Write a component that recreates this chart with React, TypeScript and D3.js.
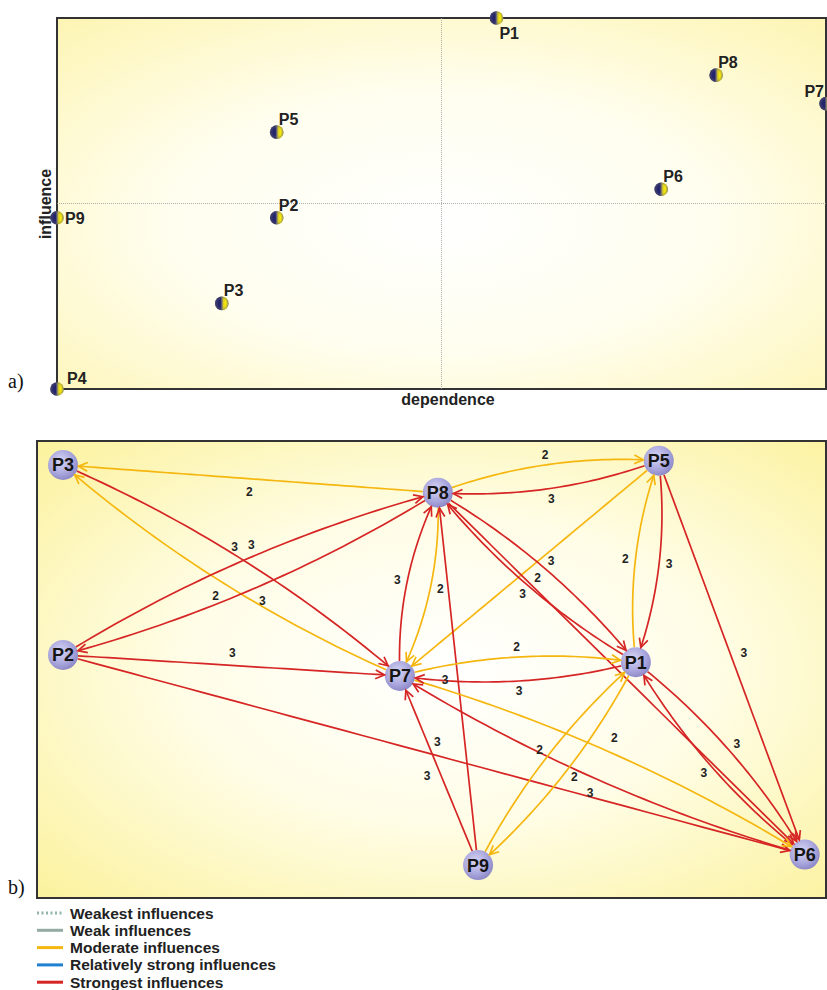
import React from "react";
import * as d3 from "d3";

// ---------- Panel a data (dependence / influence map) ----------
const varNames = ["P1", "P2", "P3", "P4", "P5", "P6", "P7", "P8", "P9"];
const dependence = [8, 4, 3, 0, 4, 11, 14, 12, 0];
const influence = [13, 6, 3, 0, 9, 7, 10, 11, 6];
const labelSide = ["s", "ne", "ne", "en", "ne", "ne", "nw", "ne", "e"];
const depDomain = [0, 14];
const infDomain = [0, 13];

// ---------- Panel b data (graph of direct influences) ----------
const graphNodes = ["P3", "P8", "P5", "P2", "P7", "P1", "P9", "P6"];
const graphLayoutX = [3.3, 50.8, 78.8, 3.3, 46.0, 75.9, 55.9, 97.3];
const graphLayoutY = [5.25, 11.3, 4.3, 46.8, 51.4, 48.4, 92.8, 90.5];

const edgeSource = ["P8", "P7", "P3", "P2", "P8", "P2", "P2", "P8", "P5", "P5", "P1", "P5", "P5", "P7", "P8", "P9", "P8", "P1", "P8", "P7", "P1", "P9", "P7", "P6", "P1", "P9", "P1", "P6"];
const edgeTarget = ["P3", "P3", "P7", "P8", "P2", "P7", "P6", "P5", "P8", "P7", "P5", "P1", "P6", "P8", "P7", "P8", "P1", "P8", "P6", "P1", "P7", "P7", "P6", "P7", "P9", "P1", "P6", "P1"];
const edgeWeight = [2, 2, 3, 3, 3, 3, 3, 2, 3, 2, 2, 3, 3, 3, 2, 3, 3, 3, 3, 2, 3, 3, 2, 3, 2, 2, 3, 3];

const legendLabels = ["Weakest influences", "Weak influences", "Moderate influences", "Relatively strong influences", "Strongest influences"];
const legendColors = ["#93b3ad", "#93aba3", "#f5b70f", "#1f7fd0", "#d62525"];
const legendDashed = [true, false, false, false, false];

const weightColor: Record<number, string> = { 2: "#f5b70f", 3: "#d62525" };

const FONT = "'Liberation Sans', Arial, Helvetica, sans-serif";

export default function App() {
  // Panel a scales
  const ax = d3.scaleLinear().domain(depDomain).range([57, 826]);
  const ay = d3.scaleLinear().domain(infDomain).range([389, 18]);
  const midX = ax((depDomain[0] + depDomain[1]) / 2);
  const midY = ay((infDomain[0] + infDomain[1]) / 2);

  // Panel b scales
  const bx = d3.scaleLinear().domain([0, 100]).range([37, 826]);
  const by = d3.scaleLinear().domain([0, 100]).range([441, 898]);

  const pos: Record<string, { x: number; y: number }> = {};
  graphNodes.forEach((n, i) => {
    pos[n] = { x: bx(graphLayoutX[i]), y: by(graphLayoutY[i]) };
  });

  const R = 15;
  const line = d3.line<[number, number]>().x((d) => d[0]).y((d) => d[1]);

  const edgeGeoms = edgeSource.map((src, i) => {
    const tgt = edgeTarget[i];
    const s = pos[src];
    const t = pos[tgt];
    const dx = t.x - s.x;
    const dy = t.y - s.y;
    const len = Math.hypot(dx, dy);
    const ux = dx / len;
    const uy = dy / len;
    const lx = uy;
    const ly = -ux;
    const paired = edgeSource.some((f, j) => f === tgt && edgeTarget[j] === src);
    const bend = paired ? (len > 380 ? 30 : 24) : 0;
    const mx = (s.x + t.x) / 2;
    const my = (s.y + t.y) / 2;
    const c = { x: mx + bend * lx, y: my + bend * ly };
    const B = (u: number) => ({
      x: (1 - u) * (1 - u) * s.x + 2 * (1 - u) * u * c.x + u * u * t.x,
      y: (1 - u) * (1 - u) * s.y + 2 * (1 - u) * u * c.y + u * u * t.y,
    });
    let lo = 0.5, hi = 1;
    for (let k = 0; k < 40; k++) {
      const m = (lo + hi) / 2;
      const p = B(m);
      if (Math.hypot(p.x - t.x, p.y - t.y) > R + 0.5) lo = m; else hi = m;
    }
    const t1 = lo;
    lo = 0; hi = 0.5;
    for (let k = 0; k < 40; k++) {
      const m = (lo + hi) / 2;
      const p = B(m);
      if (Math.hypot(p.x - s.x, p.y - s.y) < R) lo = m; else hi = m;
    }
    const t0 = hi;
    const pts: [number, number][] = d3.range(0, 41).map((k) => {
      const p = B(t0 + ((t1 - t0) * k) / 40);
      return [p.x, p.y];
    });
    const tx = 2 * (1 - t1) * (c.x - s.x) + 2 * t1 * (t.x - c.x);
    const ty = 2 * (1 - t1) * (c.y - s.y) + 2 * t1 * (t.y - c.y);
    const tl = Math.hypot(tx, ty);
    const ddx = tx / tl, ddy = ty / tl;
    const tip = B(t1);
    const L = 10, th = (26 * Math.PI) / 180;
    const rot = (a: number) => ({
      x: ddx * Math.cos(a) - ddy * Math.sin(a),
      y: ddx * Math.sin(a) + ddy * Math.cos(a),
    });
    const w1 = rot(th), w2 = rot(-th);
    const arrow = `M${tip.x - L * w1.x},${tip.y - L * w1.y}L${tip.x},${tip.y}L${tip.x - L * w2.x},${tip.y - L * w2.y}`;
    const lo2 = paired ? (len > 380 ? 30 : 22) : 13;
    const label = { x: mx + lo2 * lx, y: my + lo2 * ly };
    const hidden = graphNodes.some((n) => Math.hypot(pos[n].x - label.x, pos[n].y - label.y) < R + 4);
    return { d: line(pts) as string, arrow, label, hidden, color: weightColor[edgeWeight[i]], w: edgeWeight[i] };
  });

  // simple relaxation so weight labels do not sit on top of each other
  const visible = edgeGeoms.filter((g) => !g.hidden);
  const MIN_GAP = 17;
  for (let iter = 0; iter < 10; iter++) {
    for (let a = 0; a < visible.length; a++) {
      for (let b = a + 1; b < visible.length; b++) {
        const A = visible[a].label, Bq = visible[b].label;
        const ddx = Bq.x - A.x, ddy = Bq.y - A.y;
        const d = Math.hypot(ddx, ddy);
        if (d < MIN_GAP && d > 0.001) {
          const push = (MIN_GAP - d) / 2;
          A.x -= (ddx / d) * push; A.y -= (ddy / d) * push;
          Bq.x += (ddx / d) * push; Bq.y += (ddy / d) * push;
        }
      }
    }
  }

  const labelOffset = (side: string) => {
    switch (side) {
      case "s": return { dx: 3, dy: 21, anchor: "start" };
      case "nw": return { dx: -2, dy: -7, anchor: "end" };
      case "e": return { dx: 8, dy: 6, anchor: "start" };
      case "en": return { dx: 10, dy: -5, anchor: "start" };
      default: return { dx: 2, dy: -7, anchor: "start" };
    }
  };

  return (
    <svg width={827} height={990} style={{ position: "absolute", left: 0, top: 0 }} fontFamily={FONT}>
      <defs>
        <radialGradient id="bgA" cx="0.5" cy="0.55" r="0.72">
          <stop offset="0" stopColor="#ffffff" />
          <stop offset="0.5" stopColor="#fffeee" />
          <stop offset="1" stopColor="#fdf5b6" />
        </radialGradient>
        <radialGradient id="bgB" cx="0.52" cy="0.5" r="0.75">
          <stop offset="0" stopColor="#ffffff" />
          <stop offset="0.45" stopColor="#fffde6" />
          <stop offset="1" stopColor="#fbf197" />
        </radialGradient>
        <linearGradient id="sphL" x1="0" x2="1" y1="0" y2="0">
          <stop offset="0" stopColor="#2a2a6a" />
          <stop offset="0.4" stopColor="#23236e" />
          <stop offset="0.5" stopColor="#6f6c72" />
          <stop offset="0.62" stopColor="#d9cc25" />
          <stop offset="0.8" stopColor="#fff200" />
          <stop offset="1" stopColor="#b5ab55" />
        </linearGradient>
        <radialGradient id="sphShade" cx="0.5" cy="0.5" r="0.5">
          <stop offset="0.55" stopColor="#888" stopOpacity="0" />
          <stop offset="1" stopColor="#555" stopOpacity="0.45" />
        </radialGradient>
        <radialGradient id="node" cx="0.42" cy="0.38" r="0.68">
          <stop offset="0" stopColor="#d8d6f4" />
          <stop offset="0.6" stopColor="#aaa7de" />
          <stop offset="1" stopColor="#8682c2" />
        </radialGradient>
      </defs>

      {/* ---------- Panel a ---------- */}
      <rect x={57} y={18} width={769} height={371} fill="url(#bgA)" stroke="#333" strokeWidth={2} />
      <line x1={midX} x2={midX} y1={18} y2={389} stroke="#9a9a9a" strokeWidth={0.8} strokeDasharray="1,1" />
      <line x1={57} x2={826} y1={midY} y2={midY} stroke="#9a9a9a" strokeWidth={0.8} strokeDasharray="1,1" />
      <text transform="translate(51,204) rotate(-90)" textAnchor="middle" fontWeight="bold" fontSize={16} fill="#222">influence</text>
      <text x={448} y={405} textAnchor="middle" fontWeight="bold" fontSize={16} fill="#222">dependence</text>
      <text x={8} y={388} fontFamily="'Liberation Serif', 'Times New Roman', serif" fontSize={20} fill="#111">a)</text>
      {varNames.map((n, i) => {
        const x = ax(dependence[i]);
        const y = ay(influence[i]);
        const o = labelOffset(labelSide[i]);
        return (
          <g key={n}>
            <circle cx={x} cy={y} r={6.8} fill="url(#sphL)" />
            <circle cx={x} cy={y} r={6.8} fill="url(#sphShade)" />
            <text x={x + o.dx} y={y + o.dy} textAnchor={o.anchor as any} fontWeight="bold" fontSize={16} fill="#222">{n}</text>
          </g>
        );
      })}

      {/* ---------- Panel b ---------- */}
      <rect x={37} y={441} width={789} height={457} fill="url(#bgB)" stroke="#333" strokeWidth={2} />
      <text x={8} y={894} fontFamily="'Liberation Serif', 'Times New Roman', serif" fontSize={20} fill="#111">b)</text>
      {edgeGeoms.map((g, i) => (
        <path key={"e" + i} d={g.d} fill="none" stroke={g.color} strokeWidth={1.7} />
      ))}
      {visible.map((g, i) => (
        <text key={"l" + i} x={g.label.x} y={g.label.y} dy="0.35em" textAnchor="middle" fontWeight="bold" fontSize={12} fill="#222">{g.w}</text>
      ))}
      {graphNodes.map((n) => (
        <g key={n}>
          <circle cx={pos[n].x} cy={pos[n].y} r={R} fill="url(#node)" />
          <text x={pos[n].x} y={pos[n].y} dy="0.36em" textAnchor="middle" fontWeight="bold" fontSize={18} fill="#151515">{n}</text>
        </g>
      ))}
      {edgeGeoms.map((g, i) => (
        <path key={"a" + i} d={g.arrow} fill="none" stroke={g.color} strokeWidth={1.7} strokeLinejoin="miter" />
      ))}

      {/* ---------- Legend ---------- */}
      {legendLabels.map((lab, i) => {
        const y = 913 + i * 17.3;
        return (
          <g key={lab}>
            <line x1={37} x2={63} y1={y} y2={y} stroke={legendColors[i]} strokeWidth={3} strokeDasharray={legendDashed[i] ? "2,2.5" : undefined} />
            <text x={70} y={y} dy="0.36em" fontWeight="bold" fontSize={15.5} fill="#222">{lab}</text>
          </g>
        );
      })}
    </svg>
  );
}
